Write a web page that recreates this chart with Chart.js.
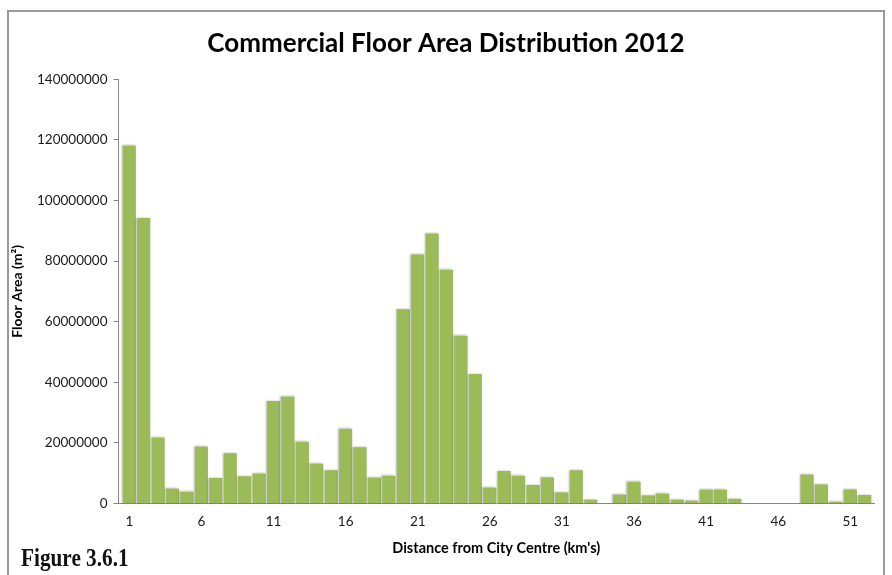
<!DOCTYPE html>
<html>
<head>
<meta charset="utf-8">
<script src="https://cdn.jsdelivr.net/npm/chart.js@4.4.1/dist/chart.umd.min.js"></script>
<style>
  html, body { margin: 0; padding: 0; background: #ffffff; }
  #wrap { position: relative; width: 892px; height: 575px; overflow: hidden; }
  #frame {
    position: absolute; left: 7px; top: 10px; width: 874px; height: 600px;
    border: 2px solid #9a9a9a; border-bottom: none;
  }
  #chart { position: absolute; left: 0; top: 0; }
  #figlabel {
    position: absolute; left: 21px; top: 545px;
    font-family: "Liberation Serif", "DejaVu Serif", serif; font-weight: bold;
    font-size: 25px; line-height: 1; color: #111;
    transform: scaleX(0.85); transform-origin: left top; white-space: nowrap;
  }
</style>
</head>
<body>
<div id="wrap">
  <div id="frame"></div>
  <canvas id="chart" width="892" height="575"></canvas>
  <div id="figlabel">Figure 3.6.1</div>
</div>
<script>
// Distance bands from the city centre (km)
const distanceKm = [
  1, 2, 3, 4, 5, 6, 7, 8, 9, 10,
  11, 12, 13, 14, 15, 16, 17, 18, 19, 20,
  21, 22, 23, 24, 25, 26, 27, 28, 29, 30,
  31, 32, 33, 34, 35, 36, 37, 38, 39, 40,
  41, 42, 43, 44, 45, 46, 47, 48, 49, 50,
  51, 52
];

// Commercial floor area in each band (m²)
const floorArea = [
  118100000, 94200000, 21700000, 4900000, 3800000, 18700000, 8400000, 16600000, 9000000, 9800000,
  33800000, 35200000, 20300000, 13100000, 11000000, 24600000, 18600000, 8500000, 9100000, 64100000,
  82200000, 89000000, 77100000, 55300000, 42700000, 5200000, 10700000, 9100000, 6100000, 8600000,
  3600000, 11000000, 1200000, 0, 2900000, 7100000, 2600000, 3200000, 1200000, 900000,
  4500000, 4500000, 1500000, 0, 0, 0, 0, 9500000, 6300000, 600000,
  4600000, 2800000
];

// Labelled distances along the horizontal axis
const xTickValues = [1, 6, 11, 16, 21, 26, 31, 36, 41, 46, 51];

// Vertical axis range and step
const yMin = 0;
const yMax = 140000000;
const yStep = 20000000;

const points = distanceKm.map((d, i) => ({ x: d, y: floorArea[i] }));

// Soft drop shadow behind the bars
const barShadow = {
  id: 'barShadow',
  beforeDatasetsDraw(chart) {
    const ctx = chart.ctx;
    ctx.save();
    ctx.shadowColor = 'rgba(0,0,0,0.28)';
    ctx.shadowBlur = 2;
    ctx.shadowOffsetX = -1;
    ctx.shadowOffsetY = -0.5;
  },
  afterDatasetsDraw(chart) {
    chart.ctx.restore();
  }
};

const axisGrey = '#868686';
const uiFont = 'Lato, "Open Sans", sans-serif';

new Chart(document.getElementById('chart'), {
  type: 'bar',
  data: {
    datasets: [{
      data: points,
      backgroundColor: '#9BBB59',
      borderWidth: 0,
      barPercentage: 0.91,
      categoryPercentage: 1.0
    }]
  },
  options: {
    responsive: false,
    animation: false,
    layout: { padding: { top: 0, left: 0, right: 0, bottom: 0 } },
    plugins: {
      legend: { display: false },
      tooltip: { enabled: false },
      title: {
        display: true,
        text: 'Commercial Floor Area Distribution 2012',
        color: '#000000',
        font: { family: uiFont, size: 26, weight: 'bold' },
        padding: { top: 28.4, bottom: 19.7 }
      }
    },
    scales: {
      x: {
        type: 'linear',
        min: 0.25,
        max: 52.64,
        offset: false,
        afterFit(scale) { scale.height = 71.5; },
        afterBuildTicks(scale) { scale.ticks = xTickValues.map(v => ({ value: v })); },
        grid: { display: true, drawOnChartArea: false, drawTicks: false, offset: false },
        border: { display: true, color: axisGrey, width: 1 },
        ticks: {
          autoSkip: false,
          maxRotation: 0,
          padding: 10,
          color: '#1a1a1a',
          font: { family: uiFont, size: 13.5 },
          callback: v => String(v)
        },
        title: {
          display: true,
          text: "Distance from City Centre (km's)",
          color: '#000000',
          font: { family: uiFont, size: 14.5, weight: 'bold' },
          padding: { top: 0, bottom: 18.3 }
        }
      },
      y: {
        min: yMin,
        max: yMax,
        afterFit(scale) { scale.width = 118.5; },
        grid: { drawOnChartArea: false, drawTicks: true, tickLength: 5, color: axisGrey },
        border: { display: true, color: axisGrey, width: 1 },
        ticks: {
          stepSize: yStep,
          padding: 6,
          color: '#1a1a1a',
          font: { family: uiFont, size: 13.5 },
          callback: v => String(v)
        },
        title: {
          display: true,
          text: 'Floor Area (m²)',
          color: '#000000',
          font: { family: uiFont, size: 14, weight: 'bold' },
          padding: { top: 9.5, bottom: 0 }
        }
      },
      // Empty margin strip on the right of the plot
      yRight: {
        position: 'right',
        display: true,
        afterFit(scale) { scale.width = 18; },
        grid: { display: false, drawTicks: false },
        border: { display: false },
        ticks: { display: false }
      }
    }
  },
  plugins: [barShadow]
});
</script>
</body>
</html>
